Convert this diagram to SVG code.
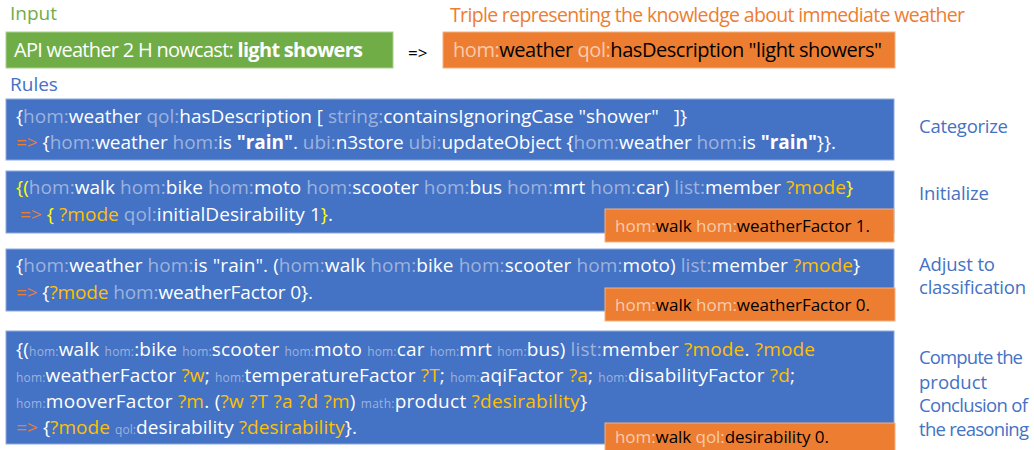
<svg xmlns="http://www.w3.org/2000/svg" width="1034" height="450" viewBox="0 0 1034 450">
<style>
text{font-family:"Open Sans","Noto Sans",sans-serif;}
.m{font-size:19px;fill:#fff;}
.s{font-size:12px;fill:#9DB3DE;}
.p{fill:#9DB3DE;}
.y{fill:#FFC000;}
.b{fill:#FFFF00;}
.o{fill:#ED7D31;}
.w{fill:#fff;}
.bd{font-weight:bold;}
.ov{font-size:17px;fill:#000;}
.lp{fill:#F8CBAD;}
.lab{font-size:18.5px;fill:#4472C4;}
.rule{fill:#4472C4;stroke:#8FAADC;stroke-width:1;}
.orange{fill:#ED7D31;stroke:#F4B183;stroke-width:1;}
</style>
<rect width="1034" height="450" fill="#fff"/>

<g id="input">
<text x="10" y="20" font-size="19" fill="#70AD47">Input</text>
<rect x="6" y="32" width="387" height="36" fill="#70AD47" stroke="#A9D18E" stroke-width="1"/>
<text x="14" y="57" font-size="20" fill="#fff" textLength="349">API weather 2 H nowcast: <tspan class="bd">light showers</tspan></text>
</g>

<g id="connectors">
<text x="408" y="59" font-size="17" fill="#000" font-family="Liberation Sans">=&gt;</text>
</g>

<g id="triple">
<text x="450" y="22" font-size="19.5" fill="#ED7D31" textLength="515">Triple representing the knowledge about immediate weather</text>
<rect x="443" y="32" width="452" height="36" class="orange"/>
<text x="453" y="57" font-size="20" fill="#000" textLength="429"><tspan class="lp">hom:</tspan>weather <tspan class="lp">qol:</tspan>hasDescription "light showers"</text>
</g>

<text x="10" y="91" font-size="19" fill="#4472C4">Rules</text>

<g id="rule1">
<rect x="6" y="99" width="888" height="61" class="rule"/>
<text x="16" y="123" class="m" xml:space="preserve" textLength="671">{<tspan class="p">hom:</tspan>weather <tspan class="p">qol:</tspan>hasDescription [ <tspan class="p">string:</tspan>containsIgnoringCase "shower"   ]}</text>
<text x="16" y="149" class="m" textLength="820"><tspan class="o">=&gt;</tspan> {<tspan class="p">hom:</tspan>weather <tspan class="p">hom:</tspan>is <tspan class="bd">"rain"</tspan>. <tspan class="p">ubi:</tspan>n3store <tspan class="p">ubi:</tspan>updateObject {<tspan class="p">hom:</tspan>weather <tspan class="p">hom:</tspan>is <tspan class="bd">"rain"</tspan>}}.</text>
<text x="919" y="133" class="lab" textLength="89">Categorize</text>
</g>

<g id="rule2">
<rect x="6" y="171" width="888" height="62" class="rule"/>
<text x="16" y="194" class="m" textLength="837"><tspan class="b">{(</tspan><tspan class="p">hom:</tspan>walk <tspan class="p">hom:</tspan>bike <tspan class="p">hom:</tspan>moto <tspan class="p">hom:</tspan>scooter <tspan class="p">hom:</tspan>bus <tspan class="p">hom:</tspan>mrt <tspan class="p">hom:</tspan>car) <tspan class="p">list:</tspan>member <tspan class="y">?mode</tspan><tspan class="b">}</tspan></text>
<text x="20" y="221" class="m" textLength="313"><tspan class="o">=&gt;</tspan> <tspan class="b">{</tspan> <tspan class="y">?mode</tspan> <tspan class="p">qol:</tspan>initialDesirability 1<tspan class="b">}</tspan>.</text>
<rect x="605" y="209" width="289" height="33" class="orange"/>
<text x="615" y="232" class="ov" textLength="255"><tspan class="lp">hom:</tspan>walk <tspan class="lp">hom:</tspan>weatherFactor 1.</text>
<text x="919" y="200" class="lab" textLength="70">Initialize</text>
</g>

<g id="rule3">
<rect x="6" y="249" width="888" height="62" class="rule"/>
<text x="16" y="272" class="m" textLength="844">{<tspan class="p">hom:</tspan>weather <tspan class="p">hom:</tspan>is "rain". (<tspan class="p">hom:</tspan>walk <tspan class="p">hom:</tspan>bike <tspan class="p">hom:</tspan>scooter <tspan class="p">hom:</tspan>moto) <tspan class="p">list:</tspan>member <tspan class="y">?mode</tspan>}</text>
<text x="16" y="299" class="m" textLength="297"><tspan class="o">=&gt;</tspan> {<tspan class="y">?mode</tspan> <tspan class="p">hom:</tspan>weatherFactor 0}.</text>
<rect x="605" y="288" width="290" height="33" class="orange"/>
<text x="615" y="311" class="ov" textLength="255"><tspan class="lp">hom:</tspan>walk <tspan class="lp">hom:</tspan>weatherFactor 0.</text>
<text x="919" y="271" class="lab" textLength="76">Adjust to</text>
<text x="919" y="294" class="lab" textLength="107">classification</text>
</g>

<g id="rule4">
<rect x="6" y="331" width="888" height="113" class="rule"/>
<text x="16" y="356" class="m" textLength="799">{(<tspan class="s">hom:</tspan>walk <tspan class="s">hom:</tspan>:bike <tspan class="s">hom:</tspan>scooter <tspan class="s">hom:</tspan>moto <tspan class="s">hom:</tspan>car <tspan class="s">hom:</tspan>mrt <tspan class="s">hom:</tspan>bus) <tspan class="p">list:</tspan>member <tspan class="y">?mode</tspan>. <tspan class="y">?mode</tspan></text>
<text x="16" y="382" class="m" textLength="779"><tspan class="s">hom:</tspan>weatherFactor <tspan class="y">?w</tspan>; <tspan class="s">hom:</tspan>temperatureFactor <tspan class="y">?T</tspan>; <tspan class="s">hom:</tspan>aqiFactor <tspan class="y">?a</tspan>; <tspan class="s">hom:</tspan>disabilityFactor <tspan class="y">?d</tspan>;</text>
<text x="16" y="408" class="m" textLength="571"><tspan class="s">hom:</tspan>mooverFactor <tspan class="y">?m</tspan>. (<tspan class="y">?w ?T ?a ?d ?m</tspan>) <tspan class="s">math:</tspan>product <tspan class="y">?desirability</tspan>}</text>
<text x="16" y="434" class="m" textLength="341"><tspan class="o">=&gt;</tspan> {<tspan class="y">?mode</tspan> <tspan class="s">qol:</tspan>desirability <tspan class="y">?desirability</tspan>}.</text>
<rect x="605" y="423" width="290" height="30" class="orange"/>
<text x="615" y="443" class="ov" textLength="214"><tspan class="lp">hom:</tspan>walk <tspan class="lp">qol:</tspan>desirability 0.</text>
<text x="919" y="364" class="lab" textLength="104">Compute the</text>
<text x="919" y="389" class="lab">product</text>
<text x="919" y="412" class="lab" textLength="109">Conclusion of</text>
<text x="919" y="436" class="lab" textLength="110">the reasoning</text>
</g>
</svg>
